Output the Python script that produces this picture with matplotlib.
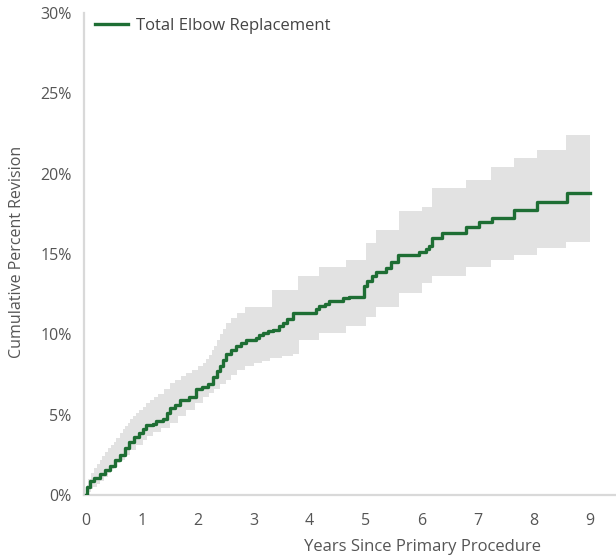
import matplotlib
matplotlib.use("Agg")
import matplotlib.pyplot as plt
from matplotlib.ticker import FuncFormatter

# Kaplan-Meier style cumulative revision (step curve, %)
km_years = [0.0, 0.03, 0.07, 0.15, 0.25, 0.35, 0.43, 0.52, 0.61, 0.70, 0.78, 0.87,
            0.96, 1.02, 1.08, 1.20, 1.26, 1.38, 1.45, 1.50, 1.60, 1.68, 1.85, 1.97,
            2.08, 2.18, 2.27, 2.35, 2.39, 2.45, 2.51, 2.60, 2.69, 2.78, 2.86, 3.04,
            3.10, 3.16, 3.25, 3.34, 3.45, 3.52, 3.60, 3.70, 4.11, 4.17, 4.28, 4.35,
            4.59, 4.70, 4.97, 5.02, 5.12, 5.18, 5.36, 5.45, 5.57, 5.95, 6.07, 6.13,
            6.19, 6.37, 6.79, 7.02, 7.26, 7.65, 8.06, 8.60, 9.01]
km_pct = [0.0, 0.5, 0.85, 1.05, 1.3, 1.55, 1.8, 2.15, 2.5, 2.9, 3.3, 3.6,
          3.85, 4.1, 4.35, 4.45, 4.6, 4.75, 5.1, 5.4, 5.6, 5.9, 6.1, 6.6,
          6.75, 6.9, 7.35, 7.7, 8.0, 8.4, 8.75, 9.0, 9.25, 9.45, 9.65, 9.8,
          9.95, 10.1, 10.2, 10.3, 10.5, 10.7, 10.95, 11.35, 11.55, 11.75, 11.9, 12.05,
          12.25, 12.3, 13.0, 13.3, 13.6, 13.9, 14.1, 14.5, 14.95, 15.1, 15.3, 15.5,
          16.0, 16.3, 16.7, 16.97, 17.26, 17.73, 18.25, 18.81, 18.81]

upper_years = [0.0, 0.02, 0.05, 0.1, 0.15, 0.2, 0.25, 0.3, 0.35, 0.4, 0.45, 0.5,
               0.55, 0.61, 0.66, 0.7, 0.75, 0.8, 0.85, 0.9, 0.96, 1.02, 1.08, 1.15,
               1.22, 1.3, 1.4, 1.5, 1.6, 1.7, 1.8, 1.9, 2.0, 2.09, 2.15, 2.2,
               2.25, 2.3, 2.35, 2.4, 2.45, 2.51, 2.6, 2.7, 2.85, 3.32, 3.8, 4.17,
               4.65, 5.0, 5.18, 5.6, 6.01, 6.19, 6.79, 7.23, 7.65, 8.06, 8.57, 9.01]
upper_pct = [0.0, 0.6, 1.0, 1.4, 1.65, 1.9, 2.15, 2.4, 2.65, 2.9, 3.1, 3.3,
             3.55, 3.85, 4.1, 4.3, 4.5, 4.7, 4.9, 5.1, 5.3, 5.5, 5.7, 5.9,
             6.1, 6.3, 6.6, 6.95, 7.15, 7.4, 7.6, 7.8, 8.0, 8.2, 8.45, 8.7,
             9.0, 9.3, 9.65, 10.0, 10.35, 10.7, 11.0, 11.3, 11.7, 12.76, 13.6, 14.2,
             14.6, 15.7, 16.5, 17.7, 17.9, 19.1, 19.6, 20.4, 20.95, 21.5, 22.4, 22.4]

lower_years = [0.0, 0.05, 0.1, 0.13, 0.2, 0.25, 0.33, 0.4, 0.45, 0.5, 0.55, 0.61,
               0.7, 0.8, 0.9, 1.02, 1.1, 1.2, 1.35, 1.5, 1.65, 1.8, 1.95, 2.09,
               2.2, 2.3, 2.4, 2.51, 2.6, 2.7, 2.85, 3.0, 3.15, 3.3, 3.5, 3.7,
               3.81, 4.17, 4.65, 5.0, 5.18, 5.6, 6.01, 6.19, 6.79, 7.23, 7.65, 8.06,
               8.57, 9.01]
lower_pct = [0.0, 0.2, 0.4, 0.52, 0.7, 0.9, 1.15, 1.4, 1.6, 1.8, 2.0, 2.18,
             2.5, 2.8, 3.1, 3.42, 3.65, 3.9, 4.2, 4.46, 4.9, 5.3, 5.7, 6.12,
             6.35, 6.6, 6.9, 7.16, 7.5, 7.8, 8.0, 8.2, 8.35, 8.5, 8.65, 8.8,
             9.65, 10.06, 10.5, 11.1, 11.7, 12.55, 13.2, 13.6, 14.2, 14.6, 14.93, 15.35,
             15.76, 15.76]

x_ticks = [0, 1, 2, 3, 4, 5, 6, 7, 8, 9]
y_ticks = [0, 5, 10, 15, 20, 25, 30]
series_label = "Total Elbow Replacement"

GREEN = "#1e6e34"
BAND = "#e2e2e2"
TXT = "#555555"
SPINE = "#d9d9d9"

plt.rcParams['font.family'] = ['Open Sans', 'DejaVu Sans']

fig = plt.figure(figsize=(6.16, 5.59), dpi=100)
ax = fig.add_axes([84 / 616, 64 / 559, 1 - 84 / 616, (495 - 13) / 559])


def step_xy(xs, ys):
    X, Y = [], []
    for i in range(len(xs)):
        if i > 0:
            X.append(xs[i]); Y.append(ys[i - 1])
        X.append(xs[i]); Y.append(ys[i])
    return X, Y


ux, uy = step_xy(upper_years, upper_pct)
lx, ly = step_xy(lower_years, lower_pct)
ax.fill(ux + lx[::-1], uy + ly[::-1], color=BAND, lw=0, zorder=1)

ax.plot(km_years, km_pct, drawstyle='steps-post', color=GREEN, lw=2.4,
        label=series_label, zorder=3)

ax.set_xlim(-0.03, 9.47)
ax.set_ylim(0, 30)
ax.set_xticks(x_ticks)
ax.set_yticks(y_ticks)
ax.yaxis.set_major_formatter(FuncFormatter(lambda v, p: f"{int(v)}%"))
ax.tick_params(length=0, labelsize=11.5, colors=TXT, pad=9)
ax.tick_params(axis='x', pad=13)

for s in ['top', 'right']:
    ax.spines[s].set_visible(False)
for s in ['left', 'bottom']:
    ax.spines[s].set_color(SPINE)
    ax.spines[s].set_linewidth(1.6)

fig.text(17 / 616, 1 - 252 / 559, "Cumulative Percent Revision", rotation=90,
         ha='center', va='center', fontsize=11.5, color=TXT)
fig.text(541 / 616, 1 - 547 / 559, "Years Since Primary Procedure",
         ha='right', va='center', fontsize=12, color=TXT)

leg = ax.legend(loc='upper left', bbox_to_anchor=(0.0, 1.012), frameon=False,
                fontsize=12, handlelength=2.0, handletextpad=0.5,
                borderaxespad=0.25)
for t in leg.get_texts():
    t.set_color("#444444")

fig.savefig("out.png", dpi=100)
